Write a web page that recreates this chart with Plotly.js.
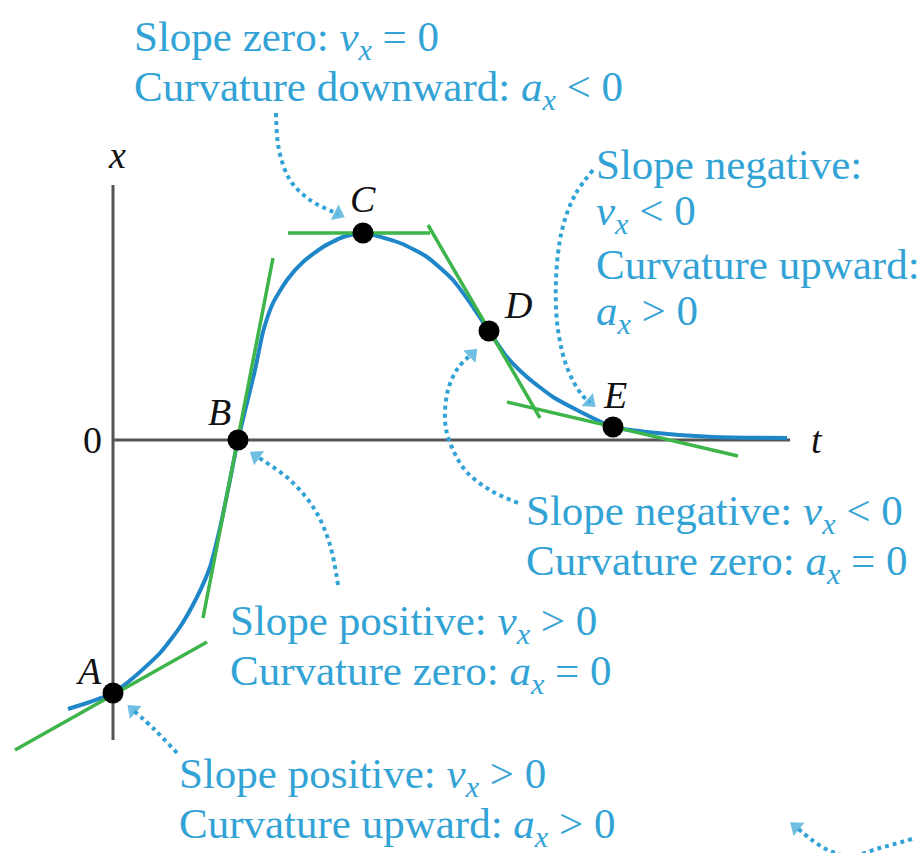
<!DOCTYPE html>
<html>
<head>
<meta charset="utf-8">
<script src="https://cdn.plot.ly/plotly-3.0.1.min.js"></script>
<style>html,body{margin:0;padding:0;background:#fff;}#chart{width:919px;height:853px;}</style>
</head>
<body>
<div id="chart"></div>
<script>
// ---- Data (t in units between labelled points, x in arbitrary position units) ----
const curveT = [-0.36, -0.184, 0, 0.16, 0.376, 0.536, 0.672, 0.776, 0.856, 0.936, 1, 1.136, 1.2, 1.28, 1.392, 1.52, 1.68, 1.84, 2, 2.296, 2.512, 2.72, 2.88, 3.008, 3.152, 3.312, 3.52, 3.712, 4, 4.272, 4.8, 5.392];
const curveX = [-2.69, -2.62, -2.53, -2.38, -2.13, -1.87, -1.57, -1.27, -0.88, -0.40, 0, 0.70, 1.08, 1.37, 1.60, 1.78, 1.93, 2.03, 2.07, 1.97, 1.83, 1.60, 1.33, 1.09, 0.83, 0.63, 0.43, 0.30, 0.13, 0.08, 0.03, 0.02];

const pointNames = ['A', 'B', 'C', 'D', 'E'];
const pointT = [0, 1, 2, 3.008, 4];
const pointX = [-2.53, 0, 2.07, 1.09, 0.13];

// tangent segments [t0, t1], [x0, x1]
const tangentA_T = [-0.784, 0.752], tangentA_X = [-3.10, -2.02];
const tangentB_T = [0.72, 1.28],    tangentB_X = [-1.78, 1.82];
const tangentC_T = [1.4, 2.536],    tangentC_X = [2.07, 2.07];
const tangentD_T = [2.52, 3.416],   tangentD_X = [2.15, 0.22];
const tangentE_T = [3.152, 5.0],    tangentE_X = [0.38, -0.16];

// dotted pointer paths (t, x)
const ptrC_T = [1.304, 1.328, 1.416, 1.576, 1.80];
const ptrC_X = [3.27, 2.90, 2.60, 2.40, 2.26];
const ptrE_T = [3.84, 3.696, 3.592, 3.544, 3.56, 3.64, 3.752, 3.816];
const ptrE_X = [2.70, 2.45, 2.10, 1.60, 1.10, 0.70, 0.45, 0.38];
const ptrD_T = [3.24, 3.016, 2.816, 2.688, 2.656, 2.68, 2.76, 2.872];
const ptrD_X = [-0.63, -0.50, -0.30, 0.0, 0.20, 0.50, 0.72, 0.86];
const ptrB_T = [1.80, 1.736, 1.616, 1.416, 1.144];
const ptrB_X = [-1.45, -1.05, -0.70, -0.40, -0.16];
const ptrA_T = [0.512, 0.336, 0.16];
const ptrA_X = [-3.13, -2.90, -2.70];
const ptrF_T = [6.392, 6.136, 5.896, 5.736, 5.592, 5.464];
const ptrF_X = [-3.99, -4.08, -4.16, -4.11, -4.00, -3.87];

// axis extents
const axisT = [0, 5.416];
const axisX = [-3.0, 2.55];

// text blocks
const textC = ['Slope zero: <i>v</i><sub><i>x</i></sub> = 0', 'Curvature downward: <i>a</i><sub><i>x</i></sub> &lt; 0'];
const textE = ['Slope negative:', '<i>v</i><sub><i>x</i></sub> &lt; 0', 'Curvature upward:', '<i>a</i><sub><i>x</i></sub> &gt; 0'];
const textD = ['Slope negative: <i>v</i><sub><i>x</i></sub> &lt; 0', 'Curvature zero: <i>a</i><sub><i>x</i></sub> = 0'];
const textB = ['Slope positive: <i>v</i><sub><i>x</i></sub> &gt; 0', 'Curvature zero: <i>a</i><sub><i>x</i></sub> = 0'];
const textA = ['Slope positive: <i>v</i><sub><i>x</i></sub> &gt; 0', 'Curvature upward: <i>a</i><sub><i>x</i></sub> &gt; 0'];

// ---- Styles ----
const W = 919, H = 853;
const BLUE = '#1f86c8', GREEN = '#3db54a', TXT = '#33a3d6', AX = '#555555';
const SERIF = '"Liberation Serif", "Times New Roman", Times, "DejaVu Serif", serif';

const traces = [];
traces.push({x: curveT, y: curveX, mode: 'lines', line: {color: BLUE, width: 4, shape: 'spline', smoothing: 0.6}, hoverinfo: 'skip'});
[[tangentA_T, tangentA_X], [tangentB_T, tangentB_X], [tangentC_T, tangentC_X], [tangentD_T, tangentD_X], [tangentE_T, tangentE_X]].forEach(([tt, xx]) => {
  traces.push({x: tt, y: xx, mode: 'lines', line: {color: GREEN, width: 3.5}, hoverinfo: 'skip'});
});
traces.push({x: pointT, y: pointX, mode: 'markers', marker: {color: '#000', size: 21}, hoverinfo: 'skip'});

[[ptrC_T, ptrC_X], [ptrE_T, ptrE_X], [ptrD_T, ptrD_X], [ptrB_T, ptrB_X], [ptrA_T, ptrA_X], [ptrF_T, ptrF_X]].forEach(([tt, xx]) => {
  traces.push({x: tt, y: xx, mode: 'lines', line: {color: TXT, width: 4, dash: '4px,4px', shape: 'spline'}, hoverinfo: 'skip'});
  const sizes = tt.map((_, i) => i === tt.length - 1 ? 15 : 0);
  traces.push({x: tt, y: xx, mode: 'markers', marker: {symbol: 'triangle-up', angleref: 'previous', size: sizes, color: TXT, line: {width: 0}}, hoverinfo: 'skip'});
});

const annotations = [];
function addText(lines, leftPx, firstCenterPx, step, size, color) {
  lines.forEach((s, i) => {
    annotations.push({xref: 'paper', yref: 'paper', x: leftPx / W, y: 1 - (firstCenterPx + i * step) / H,
      xanchor: 'left', yanchor: 'middle', showarrow: false, text: s,
      font: {family: SERIF, size: size, color: color}});
  });
}
const FS = 43, STEP = 50;
addText(textC, 132, 40, STEP, FS, TXT);
addText(textE, 594, 164, STEP, FS, TXT);
addText(textD, 524, 514, STEP, FS, TXT);
addText(textB, 228, 624, STEP, FS, TXT);
addText(textA, 177, 777, STEP, FS, TXT);

// point labels
const labelOffsetPx = {A: [-25, -22], B: [-19, -28], C: [0, -34], D: [29, -26], E: [2, -32]};
const LBL = {family: SERIF, size: 38, color: '#111'};
pointNames.forEach((n, i) => {
  annotations.push({x: pointT[i], y: pointX[i], xref: 'x', yref: 'y', text: '<i>' + n + '</i>', showarrow: false,
    xshift: labelOffsetPx[n][0], yshift: -labelOffsetPx[n][1], font: LBL});
});
// axis labels
annotations.push({x: 0, y: axisX[1], xref: 'x', yref: 'y', text: '<i>x</i>', showarrow: false, xshift: 4, yshift: 30, font: LBL});
annotations.push({x: 0, y: 0, xref: 'x', yref: 'y', text: '0', showarrow: false, xshift: -21, yshift: 0, font: LBL});
annotations.push({x: axisT[1], y: 0, xref: 'x', yref: 'y', text: '<i>t</i>', showarrow: false, xshift: 27, yshift: 0, font: LBL});

const shapes = [
  {type: 'line', xref: 'x', yref: 'y', x0: 0, x1: 0, y0: axisX[0], y1: axisX[1], line: {color: AX, width: 3}, layer: 'below'},
  {type: 'line', xref: 'x', yref: 'y', x0: axisT[0], x1: axisT[1], y0: 0, y1: 0, line: {color: AX, width: 3}, layer: 'below'}
];

const layout = {
  width: W, height: H, margin: {l: 0, r: 0, t: 0, b: 0},
  paper_bgcolor: '#fff', plot_bgcolor: '#fff', showlegend: false,
  font: {family: SERIF},
  xaxis: {range: [-113 / 125, (W - 113) / 125], visible: false, fixedrange: true},
  yaxis: {range: [(440 - H) / 100, 440 / 100], visible: false, fixedrange: true},
  annotations: annotations, shapes: shapes
};
Plotly.newPlot('chart', traces, layout, {staticPlot: true});
</script>
</body>
</html>
